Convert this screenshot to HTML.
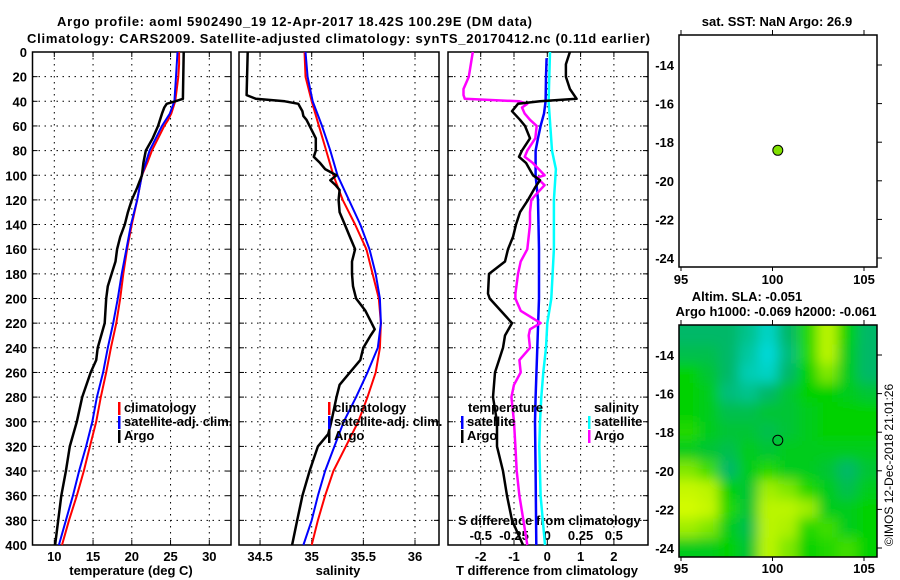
<!DOCTYPE html>
<html><head><meta charset="utf-8"><style>
html,body{margin:0;padding:0;background:#fff;}
svg{display:block;font-family:"Liberation Sans",sans-serif;font-weight:bold;font-size:13px;}
</style></head><body>
<svg id="s" width="900" height="580" viewBox="0 0 900 580" xmlns="http://www.w3.org/2000/svg">
<defs>
<filter id="blur" x="-10%" y="-10%" width="120%" height="120%"><feGaussianBlur stdDeviation="6"/></filter>
<clipPath id="mapclip"><rect x="679" y="325" width="198" height="232"/></clipPath>
</defs>
<text x="57" y="26" textLength="475">Argo profile: aoml 5902490_19 12-Apr-2017 18.42S 100.29E (DM data)</text>
<text x="27" y="43" textLength="623">Climatology: CARS2009. Satellite-adjusted climatology: synTS_20170412.nc (0.11d earlier)</text>
</svg>
<script>
// ---------- data ----------
const tempDepths=[0,10,20,30,40,50,55,60,70,80,90,100,120,140,160,180,200,220,240,260,280,300,320,340,360,380,400];
const tempClim=[26.1,26.1,26.0,25.8,25.6,25.1,24.7,24.2,23.4,22.6,22.0,21.3,20.7,20.0,19.4,18.9,18.5,18.0,17.3,16.7,16.0,15.4,14.6,13.8,12.9,11.9,11.0];
const satDepths=[0,20,40,50,60,70,80,100,120,140,160,180,200,220,240,260,280,300,320,340,360,380,400];
const tempSat=[25.9,25.7,25.5,24.9,23.9,23.1,22.3,21.3,20.7,19.9,19.3,18.7,18.2,17.6,16.9,16.3,15.5,14.9,14.1,13.2,12.4,11.5,10.6];
const argoTDepths=[0,38,40,42,45,50,60,70,80,90,100,110,120,130,140,150,160,170,180,190,200,220,240,250,260,280,300,320,340,360,380,400];
const tempArgo=[26.7,26.6,25.6,24.5,24.2,23.9,23.4,22.7,21.8,21.5,21.3,20.7,20.0,19.5,19.1,18.5,18.1,17.9,17.4,16.9,16.7,16.5,15.6,15.4,14.7,13.6,12.9,12.0,11.5,10.9,10.5,10.1];
const salDepths=[0,20,40,60,80,100,120,140,160,180,200,220,240,260,280,300,320,340,360,380,400];
const salClim=[34.93,34.94,35.00,35.07,35.14,35.21,35.30,35.42,35.53,35.59,35.65,35.67,35.66,35.62,35.54,35.45,35.33,35.21,35.13,35.06,35.00];
const salSat=[34.94,34.96,35.01,35.10,35.18,35.25,35.36,35.47,35.56,35.62,35.66,35.67,35.64,35.54,35.43,35.31,35.22,35.13,35.06,35.00,34.92];
const argoSDepths=[0,35,38,40,42,45,48,52,55,60,70,80,85,90,95,100,104,108,112,120,130,140,150,160,170,180,190,200,210,220,225,230,240,250,260,270,280,300,310,320,340,360,380,400];
const salArgo=[34.38,34.37,34.46,34.74,34.87,34.89,34.91,34.92,34.95,34.98,35.04,35.04,35.02,35.08,35.13,35.24,35.18,35.23,35.27,35.26,35.27,35.32,35.37,35.42,35.39,35.39,35.40,35.43,35.52,35.58,35.61,35.57,35.50,35.47,35.37,35.27,35.24,35.19,35.16,35.06,34.98,34.91,34.86,34.81];
const tdSatDepths=[5,20,40,50,60,70,80,100,120,160,200,240,280,300,340,400];
const tDiffSat=[-0.02,-0.04,-0.05,-0.1,-0.2,-0.28,-0.35,-0.35,-0.28,-0.25,-0.25,-0.3,-0.35,-0.37,-0.35,-0.33];
const sdSatDepths=[0,40,80,95,120,160,200,220,240,260,280,300,320,360,400];
const sDiffSat=[0.02,0.01,0.035,0.065,0.05,0.05,0.03,0.0,-0.01,-0.03,-0.045,-0.055,-0.06,-0.05,-0.017];
const tdArgoDepths=[0,10,20,30,38,40,42,48,55,60,70,80,85,90,100,104,110,120,130,140,150,160,170,180,196,200,220,230,240,250,260,280,300,320,340,360,380,400];
const tDiffArgo=[0.68,0.56,0.56,0.68,0.88,-0.22,-0.88,-1.06,-0.82,-0.67,-0.52,-0.76,-0.85,-0.64,-0.43,-0.22,-0.37,-0.58,-0.82,-0.94,-1.03,-1.18,-1.27,-1.75,-1.78,-1.73,-1.06,-1.27,-1.33,-1.45,-1.57,-1.63,-1.51,-1.51,-1.33,-1.21,-1.06,-0.73];
const sdArgoDepths=[0,20,30,35,38,40,42,45,50,55,60,70,80,85,90,100,102,108,115,120,130,140,160,170,180,196,200,210,220,225,230,240,250,260,270,280,300,320,340,360,380,400];
const sDiffArgo=[-0.56,-0.59,-0.63,-0.63,-0.62,-0.21,-0.15,-0.19,-0.17,-0.13,-0.08,-0.09,-0.15,-0.17,-0.11,-0.02,-0.08,-0.02,-0.08,-0.12,-0.13,-0.13,-0.15,-0.2,-0.22,-0.24,-0.24,-0.2,-0.05,-0.13,-0.14,-0.13,-0.21,-0.2,-0.25,-0.27,-0.25,-0.24,-0.23,-0.21,-0.18,-0.15];
const depthTicks=[0,20,40,60,80,100,120,140,160,180,200,220,240,260,280,300,320,340,360,380,400];
const tempTicks=[10,15,20,25,30];
const salTicks=[34.5,35,35.5,36];
const tdTicks=[-2,-1,0,1,2];
const sdTicks=[-0.5,-0.25,0,0.25,0.5];
const sdTickLabels=["-0.5","-0.25","0","0.25","0.5"];
const latTicks=[-14,-16,-18,-20,-22,-24];
const lonTicks=[95,100,105];
const argoLon=100.29, argoLat=-18.42;
const slaGrid=[
[0.3,0.3,0.3,0.2,0.05,0.3,0.55,0.85,0.5,0.3],
[0.35,0.35,0.3,0.15,0.0,0.25,0.55,0.85,0.45,0.3],
[0.5,0.4,0.3,0.1,0.05,0.3,0.5,0.7,0.45,0.3],
[0.5,0.45,0.25,0.2,0.3,0.4,0.5,0.5,0.45,0.4],
[0.5,0.45,0.35,0.35,0.4,0.4,0.45,0.5,0.5,0.5],
[0.55,0.45,0.4,0.4,0.35,0.4,0.45,0.5,0.5,0.5],
[0.45,0.4,0.35,0.45,0.4,0.45,0.45,0.45,0.45,0.45],
[0.7,0.6,0.3,0.45,0.55,0.45,0.45,0.4,0.3,0.4],
[0.9,0.85,0.5,0.4,0.75,0.7,0.55,0.45,0.35,0.45],
[0.95,0.9,0.55,0.4,0.85,0.85,0.75,0.45,0.45,0.5],
[0.75,0.7,0.45,0.35,0.85,0.8,0.55,0.6,0.45,0.5],
[0.45,0.45,0.5,0.4,0.85,0.7,0.5,0.55,0.6,0.5]];

// ---------- helpers ----------
const S=document.getElementById('s');const NS='http://www.w3.org/2000/svg';
function el(tag,attrs,parent){const e=document.createElementNS(NS,tag);for(const k in attrs)e.setAttribute(k,attrs[k]);(parent||S).appendChild(e);return e;}
function txt(x,y,str,anchor,parent){const t=el('text',{x:x,y:y,'text-anchor':anchor||'start'},parent);t.textContent=str;return t;}
const yD=d=>52+d*1.2325;
const xT=t=>54.3+(t-10)*7.75;
const xS=s=>311.7+(s-35)*103.3;
const xTd=v=>547.3+v*33.3;
const xSd=v=>547.3+v*133;
const xLon=l=>681+(l-95)*18.3;
const yLatTop=l=>65+(-14-l)*19.3;
const yLatMap=l=>355+(-14-l)*19.3;

function panelFrame(x0,x1,name,gridXs){
  const g=el('g',{});
  
  
  depthTicks.forEach(d=>{if(d>0&&d<400){el('line',{x1:x0,x2:x1,y1:yD(d),y2:yD(d),stroke:'#000','stroke-dasharray':'1.5,4.5','stroke-width':1},g);}
    el('line',{x1:x0,x2:x0+5,y1:yD(d),y2:yD(d),stroke:'#000'},g);el('line',{x1:x1-5,x2:x1,y1:yD(d),y2:yD(d),stroke:'#000'},g);});
  gridXs.forEach(x=>{el('line',{x1:x,x2:x,y1:52,y2:545,stroke:'#000','stroke-dasharray':'1.5,4.5'},g);
    el('line',{x1:x,x2:x,y1:545,y2:540,stroke:'#000'},g);el('line',{x1:x,x2:x,y1:52,y2:57,stroke:'#000'},g);});
  el('rect',{x:x0,y:52,width:x1-x0,height:493,fill:'none',stroke:'#000','stroke-width':1.5},g);
  return g;
}
function line(xs,ds,xf,color,w,name){
  const p=el('polyline',{points:xs.map((v,i)=>xf(v).toFixed(1)+','+yD(ds[i]).toFixed(1)).join(' '),fill:'none',stroke:color,'stroke-width':w,'stroke-linejoin':'round'});
  
  
}
function legend(x,y,color,label,name){
  const g=el('g',{});
  
  
  el('rect',{x:x,y:y-10,width:2.5,height:13,fill:color},g);
  txt(x+6,y,label,'start',g);
}

// ---------- panel 1 ----------
panelFrame(32.5,231,'temperature-panel',tempTicks.map(xT));
depthTicks.forEach(d=>{const t=txt(27,yD(d)+5,String(d),'end');});
tempTicks.forEach(v=>{const t=txt(xT(v),561,String(v),'middle');});
txt(131,575,'temperature (deg C)','middle');
line(tempClim,tempDepths,xT,'#f00',2,'temperature-climatology-line');
line(tempSat,satDepths,xT,'#00f',2,'temperature-satellite-line');
line(tempArgo,argoTDepths,xT,'#000',2.5,'temperature-argo-line');
legend(118,412,'#f00','climatology','legend-climatology');
legend(118,426,'#00f','satellite-adj. clim.','legend-satellite-adj');
legend(118,440,'#000','Argo','legend-argo');

// ---------- panel 2 ----------
panelFrame(239,439,'salinity-panel',salTicks.map(xS));
salTicks.forEach(v=>{const t=txt(xS(v),561,String(v),'middle');});
txt(338,575,'salinity','middle');
line(salClim,salDepths,xS,'#f00',2,'salinity-climatology-line');
line(salSat,salDepths,xS,'#00f',2,'salinity-satellite-line');
line(salArgo,argoSDepths,xS,'#000',2.5,'salinity-argo-line');
legend(328,412,'#f00','climatology','legend-climatology-2');
legend(328,426,'#00f','satellite-adj. clim.','legend-satellite-adj-2');
legend(328,440,'#000','Argo','legend-argo-2');

// ---------- panel 3 ----------
panelFrame(448,648,'difference-panel',tdTicks.map(xTd));
tdTicks.forEach(v=>{const t=txt(xTd(v),561,String(v),'middle');});
txt(547,575,'T difference from climatology','middle');
sdTicks.forEach((v,i)=>{const t=txt(xSd(v),540,sdTickLabels[i],'middle');});
txt(458,525,'S difference from climatology','start');
line(tDiffSat,tdSatDepths,xTd,'#00f',2.5,'t-diff-satellite-line');
line(sDiffSat,sdSatDepths,xSd,'#0ff',2.5,'s-diff-satellite-line');
line(sDiffArgo,sdArgoDepths,xSd,'#f0f',2.5,'s-diff-argo-line');
line(tDiffArgo,tdArgoDepths,xTd,'#000',2.5,'t-diff-argo-line');
txt(468,412,'temperature');
legend(461,426,'#00f','satellite','legend-t-satellite');
legend(461,440,'#000','Argo','legend-t-argo');
txt(594,412,'salinity');
legend(588,426,'#0ff','satellite','legend-s-satellite');
legend(588,440,'#f0f','Argo','legend-s-argo');

// ---------- map axes helper ----------
function mapAxes(y0,y1,yLat,name){
  const g=el('g',{});
  
  
  el('rect',{x:679,y:y0,width:198,height:y1-y0,fill:'none',stroke:'#000','stroke-width':1.5},g);
  latTicks.forEach(l=>{const y=yLat(l);el('line',{x1:877,x2:882,y1:y,y2:y,stroke:'#000'},g);txt(674,y+5,String(l),'end',g);});
  lonTicks.forEach(l=>{const x=xLon(l);el('line',{x1:x,x2:x,y1:y0,y2:y0-5,stroke:'#000'},g);el('line',{x1:x,x2:x,y1:y1,y2:y1+4,stroke:'#000'},g);});
  return g;
}
// top map
const tt=txt(777,26,'sat. SST: NaN Argo: 26.9','middle');
mapAxes(35,267,yLatTop,'sst-map');
lonTicks.forEach(l=>{const t=txt(xLon(l),284,String(l),'middle');});
const dot=el('circle',{cx:xLon(argoLon),cy:yLatTop(argoLat),r:5,fill:'#80e000',stroke:'#000','stroke-width':1});



// bottom map
txt(747,301,'Altim. SLA: -0.051','middle');
txt(776,316,'Argo h1000: -0.069 h2000: -0.061','middle');
const stops=[[0,[0,216,216]],[0.3,[0,184,104]],[0.5,[0,210,0]],[0.75,[160,238,0]],[1,[224,255,0]]];
function cmap(v){for(let i=1;i<stops.length;i++){if(v<=stops[i][0]){const a=stops[i-1],b=stops[i],f=(v-a[0])/(b[0]-a[0]);return 'rgb('+a[1].map((c,k)=>Math.round(c+(b[1][k]-c)*f)).join(',')+')';}}return 'rgb(224,255,0)';}
const clipG=el('g',{'clip-path':'url(#mapclip)'});


el('rect',{x:679,y:325,width:198,height:232,fill:cmap(0.45)},clipG);
const heat=el('g',{filter:'url(#blur)'},clipG);
const nr=slaGrid.length,nc=slaGrid[0].length,cw=198/nc,ch=232/nr;
slaGrid.forEach((row,r)=>row.forEach((v,c)=>{
  const x=679+c*cw-(c==0?15:0),y=325+r*ch-(r==0?15:0);
  const w=cw+(c==0?15:0)+(c==nc-1?15:0)+0.5,h=ch+(r==0?15:0)+(r==nr-1?15:0)+0.5;
  const cell=el('rect',{x:x,y:y,width:w,height:h,fill:cmap(v)},heat);
  
  
}));
mapAxes(325,557,yLatMap,'sla-map');
lonTicks.forEach(l=>{const t=txt(xLon(l),573,String(l),'middle');});
const ring=el('circle',{cx:xLon(argoLon),cy:yLatMap(argoLat),r:5,fill:'none',stroke:'#000','stroke-width':1});


const cp=txt(0,0,'©IMOS 12-Dec-2018 21:01:26','middle');
cp.setAttribute('transform','translate(893,465) rotate(-90)');
cp.setAttribute('style','font-weight:normal;font-size:12px');


</script>
</body></html>
